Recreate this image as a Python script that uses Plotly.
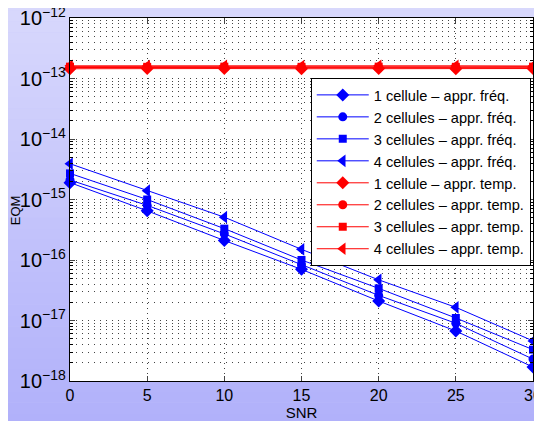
import plotly.graph_objects as go

snr = [0, 5, 10, 15, 20, 25, 30]

freq_1 = [1.9e-15, 6.5e-16, 2.1e-16, 7.0e-17, 2.1e-17, 6.7e-18, 1.7e-18]
freq_2 = [2.1e-15, 8.0e-16, 2.7e-16, 8.3e-17, 2.6e-17, 9.0e-18, 2.3e-18]
freq_3 = [2.7e-15, 1.0e-15, 3.3e-16, 1.0e-16, 3.4e-17, 1.1e-17, 3.3e-18]
freq_4 = [3.9e-15, 1.4e-15, 5.1e-16, 1.5e-16, 4.7e-17, 1.65e-17, 4.6e-18]

temp_1 = [1.45e-13, 1.47e-13, 1.46e-13, 1.45e-13, 1.46e-13, 1.45e-13, 1.46e-13]
temp_2 = [1.52e-13, 1.52e-13, 1.51e-13, 1.52e-13, 1.51e-13, 1.52e-13, 1.51e-13]
temp_3 = [1.57e-13, 1.56e-13, 1.57e-13, 1.56e-13, 1.57e-13, 1.56e-13, 1.57e-13]
temp_4 = [1.62e-13, 1.61e-13, 1.62e-13, 1.61e-13, 1.62e-13, 1.62e-13, 1.61e-13]

names_freq = ["1 cellule \u2013 appr. fréq.", "2 cellules \u2013 appr. fréq.",
              "3 cellules \u2013 appr. fréq.", "4 cellules \u2013 appr. fréq."]
names_temp = ["1 cellule \u2013 appr. temp.", "2 cellules \u2013 appr. temp.",
              "3 cellules \u2013 appr. temp.", "4 cellules \u2013 appr. temp."]

symbols = ["diamond", "circle", "square", "triangle-left"]
sizes = [10, 9, 8, 11]

fig = go.Figure()
for vals, name, sym, sz in zip([freq_1, freq_2, freq_3, freq_4], names_freq, symbols, sizes):
    fig.add_trace(go.Scatter(x=snr, y=vals, name=name, mode="lines+markers",
                             line=dict(color="#0000ff", width=1),
                             marker=dict(symbol=sym, size=sz, color="#0000ff"),
                             cliponaxis=False))
for vals, name, sym, sz in zip([temp_1, temp_2, temp_3, temp_4], names_temp, symbols, sizes):
    fig.add_trace(go.Scatter(x=snr, y=vals, name=name, mode="lines+markers",
                             line=dict(color="#ff0000", width=1),
                             marker=dict(symbol=sym, size=sz, color="#ff0000"),
                             cliponaxis=False))

# gradient background
shapes = []
n = 40
top = (216, 216, 252)
bot = (176, 176, 250)
for i in range(n):
    t = i / (n - 1)
    c = tuple(int(round(top[k] + (bot[k] - top[k]) * t)) for k in range(3))
    shapes.append(dict(type="rect", xref="paper", yref="paper",
                       x0=-0.2, x1=1.1, y0=1.05 - (i + 1) * 1.2 / n, y1=1.05 - i * 1.2 / n + 0.001,
                       fillcolor="rgb(%d,%d,%d)" % c, line=dict(width=0), layer="below"))
# white plot area
shapes.append(dict(type="rect", xref="paper", yref="paper", x0=0, x1=1, y0=0, y1=1,
                   fillcolor="white", line=dict(width=0), layer="below"))

font = "Liberation Sans, Arial, Helvetica, sans-serif"
fig.update_layout(
    width=534, height=413,
    margin=dict(l=62, r=9, t=10, b=40),
    paper_bgcolor="rgb(200,200,250)",
    plot_bgcolor="rgba(0,0,0,0)",
    shapes=shapes,
    font=dict(family=font, size=15, color="black"),
    showlegend=True,
    legend=dict(x=0.52, y=0.835, xanchor="left", yanchor="top",
                bgcolor="white", bordercolor="black", borderwidth=1,
                font=dict(size=14.6, family=font), tracegroupgap=0,
                itemwidth=52),
    annotations=[dict(text="EQM", xref="paper", yref="paper", x=-0.117, y=0.47,
                      textangle=-90, showarrow=False, font=dict(size=13),
                      xanchor="center", yanchor="middle")],
    xaxis=dict(range=[0, 30], dtick=5, tick0=0, showline=True, linecolor="black",
               linewidth=1, mirror="ticks", ticks="inside", ticklen=5,
               showgrid=True, gridcolor="#444", gridwidth=1, griddash="1px,4px",
               zeroline=False, tickfont=dict(size=16), automargin=False,
               ticklabeloverflow="allow",
               title=dict(text="SNR", font=dict(size=15), standoff=0)),
    yaxis=dict(type="log", range=[-18, -12], dtick=1, exponentformat="power",
               showline=True, linecolor="black", linewidth=1, mirror="ticks",
               ticks="inside", ticklen=5, showgrid=True, gridcolor="#444",
               gridwidth=1, griddash="1px,5px", zeroline=False,
               tickfont=dict(size=16), automargin=False,
               ticklabeloverflow="allow",
               minor=dict(dtick="D1", showgrid=True, gridcolor="#444",
                          griddash="1px,5px", ticks="inside", ticklen=3,
                          tickcolor="black")),
)

fig.write_html("out.html")
